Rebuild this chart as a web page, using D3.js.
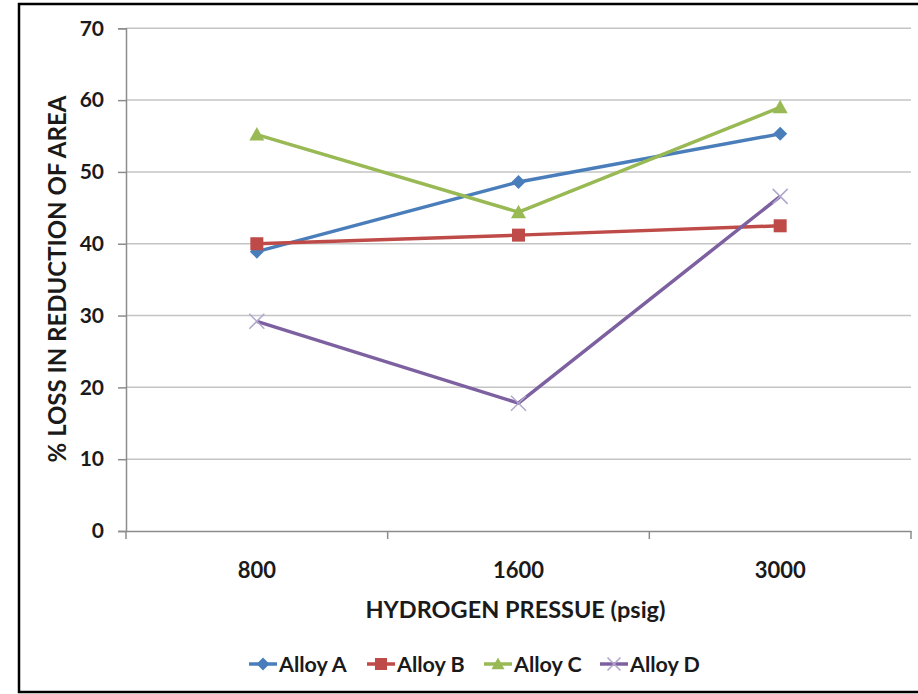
<!DOCTYPE html>
<html>
<head>
<meta charset="utf-8">
<script src="https://cdn.jsdelivr.net/npm/d3@7"></script>
<style>
html,body{margin:0;padding:0;background:#fff;}
svg{display:block;}
text{font-family:Lato,"Open Sans",sans-serif;font-weight:bold;fill:#1a1a1a;}
</style>
</head>
<body>
<svg id="chart" width="918" height="694"></svg>
<script>
const categories = ["800", "1600", "3000"];
const alloyA = [38.9, 48.6, 55.3];
const alloyB = [40.0, 41.2, 42.5];
const alloyC = [55.2, 44.4, 59.0];
const alloyD = [29.2, 17.8, 46.6];
const yTicks = [0, 10, 20, 30, 40, 50, 60, 70];
const seriesNames = ["Alloy A", "Alloy B", "Alloy C", "Alloy D"];

(function () {
const series = [
  {name: seriesNames[0], values: alloyA, color: "#4a7ebb", marker: "diamond"},
  {name: seriesNames[1], values: alloyB, color: "#be4b48", marker: "square"},
  {name: seriesNames[2], values: alloyC, color: "#98b954", marker: "triangle"},
  {name: seriesNames[3], values: alloyD, color: "#7d60a0", marker: "x"}
];

const svg = d3.select("#chart");
// outer border
svg.append("rect").attr("x", 19).attr("y", 4).attr("width", 940).attr("height", 688)
  .attr("fill", "none").attr("stroke", "#000").attr("stroke-width", 2.5);

const pLeft = 126, pRight = 911, pTop = 28.3, pBottom = 531;
const x = d3.scaleBand().domain(categories).range([pLeft, pRight]);
const y = d3.scaleLinear().domain([0, 70]).range([pBottom, pTop]);

// gridlines
svg.append("g").selectAll("line").data(yTicks.filter(d => d > 0)).join("line")
  .attr("x1", pLeft).attr("x2", pRight)
  .attr("y1", d => y(d)).attr("y2", d => y(d))
  .attr("stroke", "#c4c4c4").attr("stroke-width", 1.5);

// y axis
const yAxis = svg.append("g").attr("transform", `translate(${pLeft},0)`)
  .call(d3.axisLeft(y).tickValues(yTicks).tickSize(8).tickPadding(14));
yAxis.select(".domain").attr("stroke", "#8c8c8c").attr("stroke-width", 1.5);
yAxis.selectAll(".tick line").attr("stroke", "#8c8c8c").attr("stroke-width", 1.5);
yAxis.selectAll(".tick text").style("font-size", "21px").attr("fill", "#1a1a1a")
  .style("font-family", "Lato, sans-serif").style("font-weight", "bold");

// x axis
const xAxis = svg.append("g").attr("transform", `translate(0,${pBottom})`)
  .call(d3.axisBottom(x).tickSize(0).tickPadding(31));
xAxis.select(".domain").attr("stroke", "#8c8c8c").attr("stroke-width", 1.5);
xAxis.selectAll(".tick text").style("font-size", "22px").attr("fill", "#1a1a1a")
  .style("font-family", "Lato, sans-serif").style("font-weight", "bold");
// category boundary ticks
const bounds = categories.map(c => x(c)).concat([x(categories[categories.length-1]) + x.bandwidth()]);
svg.append("g").selectAll("line").data(bounds).join("line")
  .attr("x1", d => d).attr("x2", d => d).attr("y1", pBottom).attr("y2", pBottom + 8)
  .attr("stroke", "#8c8c8c").attr("stroke-width", 1.5);

// axis titles
svg.append("text").attr("x", x("1600") + x.bandwidth()/2 - 3).attr("y", 618)
  .attr("text-anchor", "middle").style("font-size", "23.5px").text("HYDROGEN PRESSUE (psig)");
svg.append("text").attr("transform", "translate(66,279) rotate(-90)")
  .attr("text-anchor", "middle").style("font-size", "24px").text("% LOSS IN REDUCTION OF AREA");

const cx = i => x(categories[i]) + x.bandwidth()/2;

function drawMarker(g, type, color, px, py, s) {
  if (type === "diamond") {
    g.append("path").attr("d", `M${px},${py-s}L${px+s},${py}L${px},${py+s}L${px-s},${py}Z`).attr("fill", color);
  } else if (type === "square") {
    g.append("rect").attr("x", px - s).attr("y", py - s).attr("width", 2*s).attr("height", 2*s).attr("fill", color);
  } else if (type === "triangle") {
    g.append("path").attr("d", `M${px},${py-s}L${px+s},${py+s*0.8}L${px-s},${py+s*0.8}Z`).attr("fill", color);
  } else {
    g.append("path").attr("d", `M${px-s},${py-s}L${px+s},${py+s}M${px-s},${py+s}L${px+s},${py-s}`)
      .attr("stroke", "#b0a6cc").attr("stroke-width", 1.5).attr("fill", "none");
  }
}

const line = d3.line().x((d, i) => cx(i)).y(d => y(d));
const markerSize = {diamond: 7, square: 6.5, triangle: 7.5, x: 7.5};

series.forEach(s => {
  const g = svg.append("g");
  g.append("path").datum(s.values).attr("d", line)
    .attr("fill", "none").attr("stroke", s.color).attr("stroke-width", 3.5).attr("stroke-linejoin", "round");
  s.values.forEach((v, i) => drawMarker(g, s.marker, s.color, cx(i), y(v), markerSize[s.marker]));
});

// legend
const legendX = [249, 367, 484, 600];
const ly = 664;
series.forEach((s, i) => {
  const g = svg.append("g");
  const lx = legendX[i];
  g.append("line").attr("x1", lx).attr("x2", lx + 28).attr("y1", ly).attr("y2", ly)
    .attr("stroke", s.color).attr("stroke-width", 3.5);
  drawMarker(g, s.marker, s.color, lx + 14, ly, s.marker === "square" ? 6 : 6.5);
  g.append("text").attr("x", lx + 30).attr("y", ly + 8).style("font-size", "21.5px").text(s.name);
});
})();
</script>
</body>
</html>
